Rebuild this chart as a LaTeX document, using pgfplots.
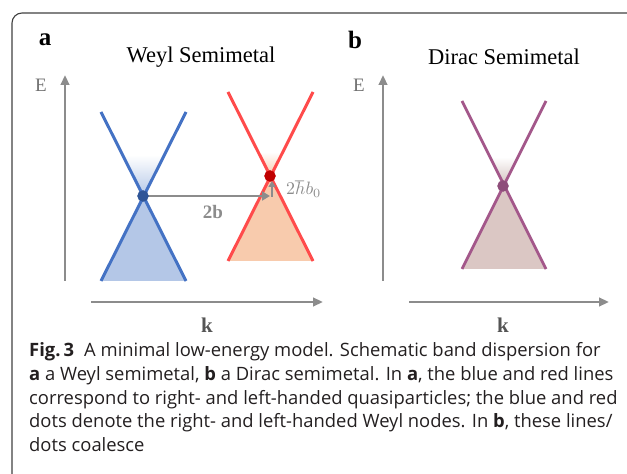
\documentclass[border=0pt]{standalone}
\usepackage{graphicx}
\usepackage{pgfplots}
\pgfplotsset{compat=1.18}
\usepackage{fontspec}
\setmainfont{Liberation Serif}
\newfontfamily\capfont{Open Sans}
\usetikzlibrary{arrows.meta}
\definecolor{axgray}{HTML}{8C8C8C}
\definecolor{framecol}{HTML}{404040}
\definecolor{blueline}{HTML}{4472C4}
\definecolor{bluefill}{HTML}{B4C7E7}
\definecolor{bluedot}{HTML}{2F5597}
\definecolor{redline}{HTML}{FF4B4B}
\definecolor{redfill}{HTML}{F8CBAD}
\definecolor{reddot}{HTML}{C00000}
\definecolor{purline}{HTML}{A3578A}
\definecolor{purfill}{HTML}{DBC7C4}
\definecolor{purdot}{HTML}{8E4D7A}
\definecolor{captext}{HTML}{231F20}
\definecolor{labgray}{HTML}{555555}
\begin{document}
\begin{tikzpicture}[x=1bp,y=1bp]
\path[use as bounding box] (0,0) rectangle (627,474);
\clip (0,0) rectangle (627,474);
\begin{axis}[at={(0,0)}, anchor=south west, width=627bp, height=474bp,
  scale only axis, xmin=0, xmax=627, ymin=0, ymax=474, y dir=reverse,
  hide axis, clip=false]
% frame
\draw[framecol, line width=1.1bp, rounded corners=10bp] (axis cs:12,490) -- (axis cs:12,13) -- (axis cs:650,13);
% ---- panel a: blue cone
\addplot[draw=none, fill=bluefill] coordinates {(143,196) (101,281) (186,281)} -- cycle;
\addplot[draw=none, top color=white, bottom color=bluefill] coordinates {(143,196) (122.5,155) (163.5,155)} -- cycle;
\addplot[blueline, line width=3bp] coordinates {(101,112) (186,281)};
\addplot[blueline, line width=3bp] coordinates {(186,112) (101,281)};
% red cone
\addplot[draw=none, fill=redfill] coordinates {(270,176) (228,261) (312,261)} -- cycle;
\addplot[draw=none, top color=white, bottom color=redfill] coordinates {(270,176) (258,152) (282,152)} -- cycle;
\addplot[redline, line width=3bp] coordinates {(228,92) (313,261)};
\addplot[redline, line width=3bp] coordinates {(313,92) (228,261)};
% axes arrows a
\addplot[axgray, line width=2.8bp, -{Triangle[length=10bp,width=8.5bp]}] coordinates {(65,281) (65,75)};
\addplot[axgray, line width=2.8bp, -{Triangle[length=10bp,width=8.5bp]}] coordinates {(91,302) (323,302)};
% 2b arrow
\addplot[axgray, line width=2.8bp, -{Triangle[length=8bp,width=9bp]}] coordinates {(143,196) (270,196)};
\addplot[axgray, line width=2.4bp, -{Triangle[length=6bp,width=7bp]}] coordinates {(272,197) (272,181)};
% dots
\addplot[only marks, mark=*, mark size=5.5bp, color=bluedot] coordinates {(143,196)};
\addplot[only marks, mark=*, mark size=5.5bp, color=reddot] coordinates {(270,176)};
% ---- panel b
\addplot[draw=none, fill=purfill] coordinates {(503,186) (462,269) (546,269)} -- cycle;
\addplot[draw=none, top color=white, bottom color=purfill!90!gray] coordinates {(503,186) (488.5,157) (517.5,157)} -- cycle;
\addplot[purline, line width=2.8bp] coordinates {(462,101) (546,269)};
\addplot[purline, line width=2.8bp] coordinates {(546,101) (462,269)};
\addplot[axgray, line width=2.8bp, -{Triangle[length=10bp,width=8.5bp]}] coordinates {(383,281) (383,75)};
\addplot[axgray, line width=2.8bp, -{Triangle[length=10bp,width=8.5bp]}] coordinates {(409,302) (609,302)};
\addplot[only marks, mark=*, mark size=5.5bp, color=purdot] coordinates {(503,186)};
% texts
\node[font=\fontsize{25bp}{25bp}\selectfont\bfseries] at (axis cs:45,40) {a};
\node[font=\fontsize{25bp}{25bp}\selectfont\bfseries] at (axis cs:355,40) {b};
\node[font=\fontsize{22.5bp}{22bp}\selectfont] at (axis cs:201,57) {Weyl Semimetal};
\node[font=\fontsize{22.5bp}{22bp}\selectfont] at (axis cs:504,57) {Dirac Semimetal};
\node[font=\fontsize{19bp}{19bp}\selectfont, text=axgray!80!black] at (axis cs:41,85) {E};
\node[font=\fontsize{19bp}{19bp}\selectfont, text=axgray!80!black] at (axis cs:359,85) {E};
\node[font=\fontsize{21bp}{21bp}\selectfont\bfseries, text=labgray] at (axis cs:207,325) {k};
\node[font=\fontsize{21bp}{21bp}\selectfont\bfseries, text=labgray] at (axis cs:503,325) {k};
\node[font=\fontsize{19bp}{19bp}\selectfont\bfseries, text=axgray] at (axis cs:213,212) {2b};
\node[text=axgray, anchor=base west, inner sep=0pt] at (axis cs:286,195) {\scalebox{1.8}{$2\hbar b_0$}};
% caption
\begin{scope}[every node/.style={anchor=base west, inner sep=0pt, text=captext, font=\capfont\fontsize{18.4bp}{22bp}\selectfont}]
\node at (axis cs:29,357) {\textbf{Fig.\,3}\hspace{0.55em}A minimal low-energy model. Schematic band dispersion for};
\node at (axis cs:29,380.5) {\textbf{a} a Weyl semimetal, \textbf{b} a Dirac semimetal. In \textbf{a}, the blue and red lines};
\node at (axis cs:29,404) {correspond to right- and left-handed quasiparticles; the blue and red};
\node at (axis cs:29,427.5) {dots denote the right- and left-handed Weyl nodes. In \textbf{b}, these lines/};
\node at (axis cs:29,451) {dots coalesce};
\end{scope}
\end{axis}
\end{tikzpicture}
\end{document}
